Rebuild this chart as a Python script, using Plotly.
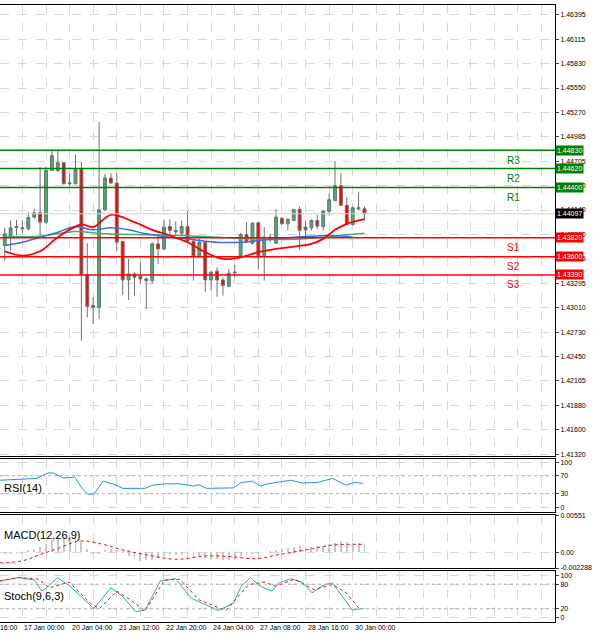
import plotly.graph_objects as go
from plotly.subplots import make_subplots

# ---------------- data ----------------
opens = [1.43730,1.43846,1.43938,1.43923,1.43923,1.44058,1.44108,1.44000,1.44598,1.44598,
         1.44687,1.44444,1.44444,1.44610,1.43394,1.43039,1.43016,1.44143,1.44510,1.44452,
         1.43776,1.43332,1.43402,1.43375,1.43344,1.43325,1.43749,1.43691,1.43950,1.43904,
         1.43873,1.43950,1.43780,1.43603,1.43768,1.43332,1.43433,1.43332,1.43259,1.43413,
         1.43614,1.43857,1.43757,1.43992,1.43606,1.43826,1.43757,1.44046,1.43981,1.44019,
         1.44147,1.43942,1.43934,1.44019,1.43950,1.44127,1.44251,1.44421,1.44193,1.43973,
         1.44154,1.44154]
highs = [1.43934,1.44019,1.44027,1.44019,1.44116,1.44154,1.44637,1.44637,1.44838,1.44838,
         1.44695,1.44560,1.44780,1.44695,1.43757,1.43132,1.45158,1.44560,1.44568,1.44560,
         1.43776,1.43575,1.43421,1.43537,1.43363,1.43768,1.43865,1.44031,1.44031,1.44008,
         1.44019,1.44127,1.43807,1.43807,1.43768,1.43440,1.43479,1.43363,1.43460,1.43510,
         1.43877,1.44000,1.44000,1.44000,1.43942,1.43865,1.44147,1.44058,1.44039,1.44154,
         1.44182,1.44019,1.44031,1.44085,1.44143,1.44328,1.44706,1.44571,1.44290,1.44182,
         1.44347,1.44182]
lows = [1.43556,1.43664,1.43846,1.43873,1.43904,1.44039,1.43846,1.43981,1.44591,1.44579,
        1.44436,1.44413,1.44436,1.42630,1.42900,1.42823,1.42881,1.44127,1.44444,1.43664,
        1.43162,1.43101,1.43151,1.43286,1.42996,1.43286,1.43518,1.43672,1.43865,1.43846,
        1.43846,1.43768,1.43325,1.43595,1.43197,1.43209,1.43139,1.43151,1.43247,1.43363,
        1.43595,1.43757,1.43741,1.43452,1.43325,1.43768,1.43749,1.43973,1.43904,1.44012,
        1.43680,1.43799,1.43904,1.43923,1.43904,1.44077,1.44251,1.44185,1.43961,1.43961,
        1.44135,1.44019]
closes = [1.43865,1.43934,1.43950,1.43934,1.44054,1.44108,1.44000,1.44598,1.44768,1.44687,
          1.44444,1.44452,1.44610,1.43394,1.43027,1.43016,1.44143,1.44510,1.44452,1.43768,
          1.43332,1.43402,1.43363,1.43344,1.43325,1.43749,1.43691,1.43942,1.43904,1.43888,
          1.43950,1.43780,1.43603,1.43768,1.43332,1.43421,1.43332,1.43267,1.43410,1.43421,
          1.43857,1.43768,1.43988,1.43606,1.43826,1.43796,1.44058,1.43981,1.44035,1.44143,
          1.43904,1.43911,1.44019,1.43954,1.44127,1.44259,1.44421,1.44193,1.43973,1.44166,
          1.44166,1.44097]

ma_red_x = [0,3,6,9,13,15,18,22,25,28,31,34,37,40,43,46,49,52,54,56,58,61]
ma_red_y = [1.43664,1.43614,1.43664,1.43826,1.43973,1.43942,1.44085,1.44000,1.43911,1.43846,
            1.43768,1.43653,1.43575,1.43595,1.43653,1.43691,1.43718,1.43749,1.43807,1.43911,
            1.43981,1.44035]
ma_blue_x = [0,3,6,9,12,15,18,21,24,28,31,34,37,40,43,46,49,52,55,58,59]
ma_blue_y = [1.43730,1.43768,1.43826,1.43884,1.43950,1.43911,1.43934,1.43911,1.43865,1.43826,
             1.43807,1.43780,1.43765,1.43768,1.43788,1.43807,1.43826,1.43838,1.43846,1.43834,
             1.43826]
ma_green_x = [0,6,12,17,24,30,36,42,48,54,58,61]
ma_green_y = [1.43834,1.43838,1.43892,1.43865,1.43854,1.43846,1.43826,1.43807,1.43799,1.43826,
              1.43854,1.43873]

levels = {"R3": 1.44830, "R2": 1.44620, "R1": 1.44400, "S1": 1.43820, "S2": 1.43600, "S3": 1.43390}
last_price = 1.44097
price_ticks = [1.46395,1.46115,1.45830,1.45550,1.45270,1.44985,1.44705,1.44420,1.44140,1.43860,
               1.43575,1.43295,1.43010,1.42730,1.42450,1.42165,1.41880,1.41600,1.41320]

rsi_x = [-0.8,3.1,5.4,7.3,8.3,9.9,11.9,13.1,14.1,15.1,16.7,18.7,20.0,23.8,25.1,27.1,29.7,32.0,
         32.9,34.2,36.8,38.8,40.1,42.0,43.3,44.6,46.5,48.5,50.4,53.0,55.6,57.9,59.2,60.8]
rsi_y = [60,62,64,76,76,65,67,42,29,29,58,50,42,42,49,52,52,47,50,42,42,43,55,58,47,52,56,60,
         54,55,64,49,55,53]

macd_hist = [-0.0003,-0.0003,-0.0003,-0.0003,0.0003,0.0005,0.0008,0.0012,0.0018,0.0022,
             0.0023,0.0022,0.0022,0.0015,0.0005,-0.0002,-0.0003,0.0003,0.0005,0.0004,
             0.0001,-0.0006,-0.0010,-0.0013,-0.0012,-0.0012,-0.0008,-0.0005,-0.0003,-0.0004,
             -0.0004,-0.0003,-0.0005,-0.0006,-0.0008,-0.0010,-0.0010,-0.0011,-0.0011,-0.0010,
             -0.0006,-0.0004,-0.0002,-0.0002,0.0000,0.0001,0.0004,0.0005,0.0006,0.0008,
             0.0009,0.0008,0.0008,0.0009,0.0010,0.0012,0.0014,0.0016,0.0015,0.0013,
             0.0013,0.0012]
macd_sig_x = [-0.8,3.1,5.7,9.0,12.8,16.7,20.0,23.8,29.0,34.2,38.1,42.7,46.5,51.1,55.6,60.8]
macd_sig_y = [-0.00155,-0.0012,-0.0004,0.0006,0.0017,0.0012,0.0004,-0.0003,-0.0010,-0.0005,
              -0.0006,-0.0009,-0.0003,0.0004,0.0011,0.0012]

st_main_x = [-0.8,2.4,5.0,6.3,7.3,8.9,10.9,15.1,18.0,20.0,22.2,23.8,26.4,29.0,31.6,36.2,38.8,
             40.1,41.7,43.3,45.3,46.5,48.5,50.4,52.1,54.3,55.6,58.9,60.8]
st_main_y = [88,96,90,63,73,96,77,21,71,50,13,17,88,93,46,16,34,75,96,75,63,83,93,85,59,79,83,
             17,21]
st_sig_x = [-0.8,2.4,5.7,7.6,10.9,14.8,16.1,19.0,21.3,23.8,27.1,29.7,32.9,37.5,41.4,44.0,45.9,
            49.1,52.4,55.6,57.9,60.2]
st_sig_y = [88,96,92,71,85,30,21,63,42,15,90,92,42,16,79,85,75,92,67,79,59,19]

date_pos = [-5,3,11,19,27,35,43,51,59]
date_lbl = ["16 Jan 16:00","17 Jan 00:00","20 Jan 04:00","21 Jan 12:00","22 Jan 20:00",
            "24 Jan 04:00","27 Jan 08:00","28 Jan 16:00","30 Jan 00:00"]

# ---------------- figure ----------------
fig = make_subplots(rows=4, cols=1, shared_xaxes=True)
idx = list(range(len(closes)))
GRID = "#d8d8d8"
xr = [-0.8, 93.3]

fig.add_trace(go.Candlestick(x=idx, open=opens, high=highs, low=lows, close=closes,
    increasing=dict(line=dict(color="#707070", width=1), fillcolor="#3cb371"),
    decreasing=dict(line=dict(color="#707070", width=1), fillcolor="#ff0000"),
    whiskerwidth=0, showlegend=False), row=1, col=1)
fig.add_trace(go.Scatter(x=ma_green_x, y=ma_green_y, mode="lines", line=dict(color="#3cb371", width=1.5, shape="spline"), showlegend=False), row=1, col=1)
fig.add_trace(go.Scatter(x=ma_blue_x, y=ma_blue_y, mode="lines", line=dict(color="#4169e1", width=1.5, shape="spline"), showlegend=False), row=1, col=1)
fig.add_trace(go.Scatter(x=ma_red_x, y=ma_red_y, mode="lines", line=dict(color="#ff0000", width=1.8, shape="spline"), showlegend=False), row=1, col=1)

fig.add_trace(go.Scatter(x=rsi_x, y=rsi_y, mode="lines", line=dict(color="#1e90ff", width=1), showlegend=False), row=2, col=1)

fig.add_trace(go.Bar(x=idx, y=macd_hist, marker=dict(color="#c8c8c8", line=dict(width=0)), width=0.15, showlegend=False), row=3, col=1)
fig.add_trace(go.Scatter(x=macd_sig_x, y=macd_sig_y, mode="lines", line=dict(color="#ff0000", width=1, dash="dot", shape="spline"), showlegend=False), row=3, col=1)

fig.add_trace(go.Scatter(x=st_main_x, y=st_main_y, mode="lines", line=dict(color="#20b2aa", width=1), showlegend=False), row=4, col=1)
fig.add_trace(go.Scatter(x=st_sig_x, y=st_sig_y, mode="lines", line=dict(color="#ff0000", width=1, dash="dot"), showlegend=False), row=4, col=1)

# level lines
for name, v in levels.items():
    col = "#008000" if name.startswith("R") else "#ff0000"
    fig.add_shape(type="line", xref="x domain", yref="y", x0=0, x1=1, y0=v, y1=v,
                  line=dict(color=col, width=1.6))
    fig.add_annotation(x=0.94, xref="x domain", y=v, yref="y", yshift=-10, text=name, showarrow=False,
                       font=dict(color=col, size=10, family="Liberation Sans"))
    fig.add_annotation(x=1.0, xref="x domain", y=v, yref="y", xanchor="left", text="%.5f" % v,
                       showarrow=False, bgcolor=col, font=dict(color="white", size=7, family="Liberation Sans"),
                       borderpad=1)
fig.add_shape(type="line", xref="x domain", yref="y", x0=0, x1=1, y0=last_price, y1=last_price,
              line=dict(color="#d0d0d0", width=1))
fig.add_annotation(x=1.0, xref="x domain", y=last_price, yref="y", xanchor="left", text="%.5f" % last_price,
                   showarrow=False, bgcolor="black", font=dict(color="white", size=7, family="Liberation Sans"),
                   borderpad=1)

# indicator guide lines
for yv, yr in [(70, "y2"), (30, "y2"), (80, "y4"), (20, "y4")]:
    fig.add_shape(type="line", xref="x domain", yref=yr, x0=0, x1=1, y0=yv, y1=yv,
                  line=dict(color="#b0b0b0", width=1, dash="dot"))

# panel titles
for txt, yr, yv in [("RSI(14)", "y2 domain", 0.45), ("MACD(12,26,9)", "y3 domain", 0.78), ("Stoch(9,6,3)", "y4 domain", 0.5)]:
    fig.add_annotation(x=0.004, xref="x domain", y=yv, yref=yr, xanchor="left", text=txt, showarrow=False,
                       font=dict(size=11, color="black", family="Liberation Sans"))

# date labels (placed along the time axis)
for p, t in zip(date_pos, date_lbl):
    fig.add_annotation(x=(p - xr[0]) / (xr[1] - xr[0]), xref="x4 domain", y=0, yref="paper",
                       yanchor="top", xanchor="left", text=t, showarrow=False,
                       font=dict(size=7, color="black", family="Liberation Sans"))

ax_common = dict(showline=True, linecolor="black", linewidth=1, mirror=True, zeroline=False,
                 gridcolor=GRID, griddash="dash", tickfont=dict(size=7, family="Liberation Sans", color="black"))
vgrid = list(range(-1, 94, 4))
for i in range(1, 5):
    fig.update_xaxes(row=i, col=1, range=xr, tickvals=vgrid, showticklabels=False, ticks="",
                     rangeslider=dict(visible=False), **ax_common)

fig.update_yaxes(row=1, col=1, side="right", range=[1.41298, 1.46509], tickvals=price_ticks,
                 ticktext=["%.5f" % t for t in price_ticks], ticks="outside", ticklen=3, **ax_common)
fig.update_yaxes(row=2, col=1, side="right", range=[-11, 107], tickvals=[100, 70, 30, 0], ticks="outside", ticklen=3,
                 **ax_common)
fig.update_yaxes(row=3, col=1, side="right", range=[-0.002288, 0.00551], tickvals=[0.00551, 0.0, -0.002288],
                 ticktext=["0.00551", "0.00", "-0.002288"], ticks="outside", ticklen=3, **ax_common)
fig.update_yaxes(row=4, col=1, side="right", range=[-12, 112], tickvals=[100, 80, 20, 0], ticks="outside", ticklen=3,
                 **ax_common)

fig.update_layout(
    width=600, height=635, margin=dict(l=0, r=45, t=5, b=13),
    paper_bgcolor="white", plot_bgcolor="white", showlegend=False, bargap=0,
    yaxis=dict(domain=[0.269, 1.0]), yaxis2=dict(domain=[0.178, 0.264]),
    yaxis3=dict(domain=[0.0875, 0.173]), yaxis4=dict(domain=[0.0, 0.0827]),
)
fig.write_html("out.html", config={"displayModeBar": False},
               post_script="document.body.style.margin='0';document.body.style.overflow='hidden';")
